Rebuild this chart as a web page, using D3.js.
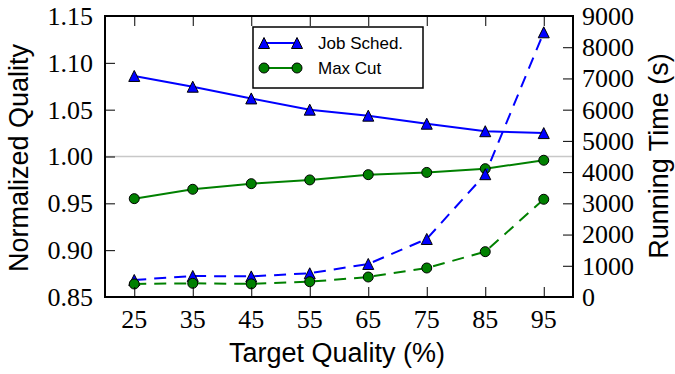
<!DOCTYPE html>
<html>
<head>
<meta charset="utf-8">
<script src="https://cdn.jsdelivr.net/npm/d3@7"></script>
<style>
  body { margin: 0; background: #fff; }
  svg { display: block; }
</style>
</head>
<body>
<div id="chart"></div>
<script>
const width = 675;
const height = 374;

// data
const targets = [25, 35, 45, 55, 65, 75, 85, 95];
const jobQuality = [1.086, 1.0745, 1.062, 1.050, 1.0436, 1.035, 1.027, 1.025];
const cutQuality = [0.955, 0.965, 0.971, 0.975, 0.9806, 0.983, 0.987, 0.996];
const jobTime = [545, 673, 660, 760, 1058, 1859, 3933, 8478];
const cutTime = [417, 438, 420, 490, 641, 929, 1452, 3130];
const qualityTicks = [0.85, 0.90, 0.95, 1.00, 1.05, 1.10, 1.15];
const timeTicks = [0, 1000, 2000, 3000, 4000, 5000, 6000, 7000, 8000, 9000];
const seriesNames = ['Job Sched.', 'Max Cut'];

const plotL = 105, plotR = 573, plotT = 16, plotB = 297;

const svg = d3.select('#chart').append('svg')
  .attr('width', width)
  .attr('height', height);

const x = d3.scaleLinear().domain([20, 100]).range([plotL, plotR]);
const yQ = d3.scaleLinear().domain([0.85, 1.15]).range([plotB, plotT]);
const yT = d3.scaleLinear().domain([0, 9000]).range([plotB, plotT]);

const sans = '"Liberation Sans"';
const serif = '"Liberation Serif"';

// reference line at 1.0
svg.append('line')
  .attr('x1', plotL).attr('x2', plotR)
  .attr('y1', yQ(1)).attr('y2', yQ(1))
  .attr('stroke', '#c8c8c8')
  .attr('stroke-width', 1.5);

const tri = 'M0,-5.5L-5.5,5.5L5.5,5.5Z';

function drawSeries(values, yScale, color, marker, dashed) {
  const pts = targets.map((t, i) => [x(t), yScale(values[i])]);
  svg.append('path')
    .attr('d', d3.line()(pts))
    .attr('fill', 'none')
    .attr('stroke', color)
    .attr('stroke-width', 2)
    .attr('stroke-dasharray', dashed ? '12,8' : null);
  const g = svg.append('g');
  if (marker === 'tri') {
    g.selectAll('path').data(pts).join('path')
      .attr('d', tri)
      .attr('transform', d => `translate(${d[0]},${d[1]})`)
      .attr('fill', color).attr('stroke', '#000').attr('stroke-width', 1);
  } else {
    g.selectAll('circle').data(pts).join('circle')
      .attr('cx', d => d[0]).attr('cy', d => d[1]).attr('r', 5)
      .attr('fill', color).attr('stroke', '#000').attr('stroke-width', 1);
  }
}

drawSeries(jobQuality, yQ, '#0000ff', 'tri', false);
drawSeries(cutQuality, yQ, '#008000', 'circle', false);
drawSeries(jobTime, yT, '#0000ff', 'tri', true);
drawSeries(cutTime, yT, '#008000', 'circle', true);

// frame
svg.append('rect')
  .attr('x', plotL).attr('y', plotT)
  .attr('width', plotR - plotL).attr('height', plotB - plotT)
  .attr('fill', 'none').attr('stroke', '#000').attr('stroke-width', 2);

// axes: inward tick marks only, labels drawn separately
const axes = [
  svg.append('g').attr('transform', `translate(${plotL},0)`)
    .call(d3.axisLeft(yQ).tickValues(qualityTicks).tickSize(-10).tickFormat('')),
  svg.append('g').attr('transform', `translate(${plotR},0)`)
    .call(d3.axisRight(yT).tickValues(timeTicks).tickSize(-10).tickFormat('')),
  svg.append('g').attr('transform', `translate(0,${plotB})`)
    .call(d3.axisBottom(x).tickValues(targets).tickSize(-10).tickFormat('')),
  svg.append('g').attr('transform', `translate(0,${plotT})`)
    .call(d3.axisTop(x).tickValues(targets).tickSize(-10).tickFormat(''))
];
axes.forEach(a => {
  a.select('.domain').remove();
  a.selectAll('.tick text').remove();
  a.selectAll('.tick line').attr('stroke', '#000').attr('stroke-width', 1);
});

const tickLabels = svg.append('g')
  .style('font-family', serif)
  .style('font-size', '26px')
  .attr('fill', '#000');
tickLabels.selectAll('text.q').data(qualityTicks).join('text')
  .attr('class', 'q')
  .attr('x', plotL - 12).attr('y', d => yQ(d)).attr('dy', '0.34em')
  .attr('text-anchor', 'end')
  .text(d3.format('.2f'));
tickLabels.selectAll('text.t').data(timeTicks).join('text')
  .attr('class', 't')
  .attr('x', plotR + 9).attr('y', d => yT(d)).attr('dy', '0.34em')
  .attr('text-anchor', 'start')
  .text(d3.format('d'));
tickLabels.selectAll('text.x').data(targets).join('text')
  .attr('class', 'x')
  .attr('x', d => x(d)).attr('y', plotB + 31)
  .attr('text-anchor', 'middle')
  .text(d => d);

// axis titles
const titles = svg.append('g').style('font-family', sans).style('font-size', '27px');
titles.append('text')
  .attr('x', 337).attr('y', 362)
  .attr('text-anchor', 'middle')
  .text('Target Quality (%)');
titles.append('text')
  .attr('transform', 'translate(28,158) rotate(-90)')
  .attr('text-anchor', 'middle')
  .text('Normalized Quality');
titles.append('text')
  .attr('transform', 'translate(668,156) rotate(-90)')
  .attr('text-anchor', 'middle')
  .text('Running Time (s)');

// legend
const legend = svg.append('g');
legend.append('rect')
  .attr('x', 253).attr('y', 27).attr('width', 170).attr('height', 61)
  .attr('fill', '#fff').attr('stroke', '#000').attr('stroke-width', 1.5);
const legendColors = ['#0000ff', '#008000'];
seriesNames.forEach((name, i) => {
  const ly = 43 + i * 25;
  legend.append('line')
    .attr('x1', 264).attr('x2', 297).attr('y1', ly).attr('y2', ly)
    .attr('stroke', legendColors[i]).attr('stroke-width', 2);
  [264, 297].forEach(lx => {
    if (i === 0) {
      legend.append('path').attr('d', tri)
        .attr('transform', `translate(${lx},${ly})`)
        .attr('fill', legendColors[i]).attr('stroke', '#000').attr('stroke-width', 1);
    } else {
      legend.append('circle').attr('cx', lx).attr('cy', ly).attr('r', 5)
        .attr('fill', legendColors[i]).attr('stroke', '#000').attr('stroke-width', 1);
    }
  });
  legend.append('text')
    .attr('x', 318).attr('y', ly).attr('dy', '0.35em')
    .style('font-family', sans).style('font-size', '17px')
    .text(name);
});
</script>
</body>
</html>
